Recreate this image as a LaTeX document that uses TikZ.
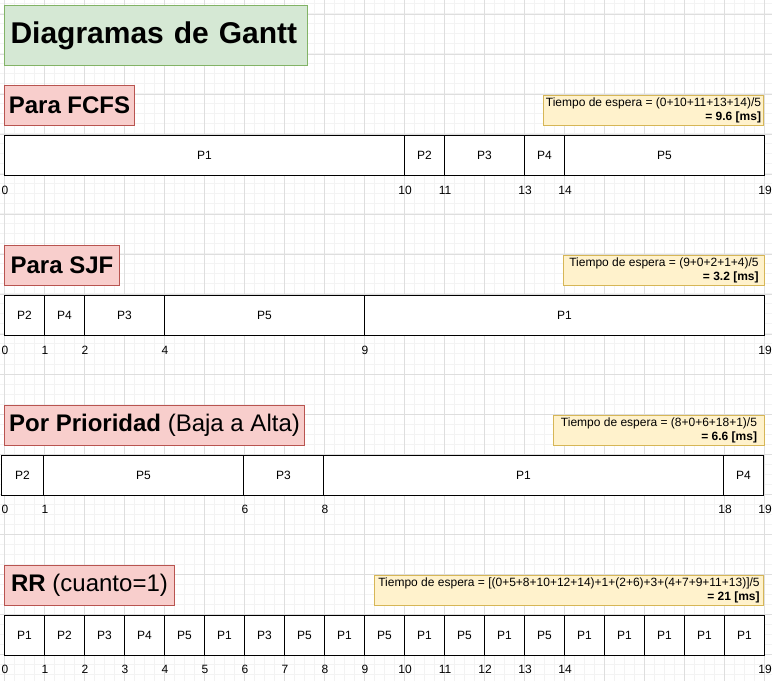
\documentclass[tikz,border=0pt]{standalone}
\usepackage{fontspec}
\setmainfont{Liberation Sans}
\definecolor{gfill}{HTML}{D5E8D4}
\definecolor{gdraw}{HTML}{82B366}
\definecolor{rfill}{HTML}{F8CECC}
\definecolor{rdraw}{HTML}{B85450}
\definecolor{yfill}{HTML}{FFF2CC}
\definecolor{ydraw}{HTML}{D6B656}
\definecolor{gridmin}{HTML}{F3F3F3}
\definecolor{gridmaj}{HTML}{DEDEDE}
\begin{document}
\begin{tikzpicture}[x=0.75pt,y=-0.75pt,
  titlebox/.style={draw=gdraw, fill=gfill, line width=0.75pt, inner ysep=0pt, inner xsep=4.5pt, anchor=north west,
    align=left, font=\fontsize{22.5}{27}\selectfont\bfseries},
  headbox/.style={draw=rdraw, fill=rfill, line width=0.75pt, inner sep=0pt, anchor=north west,
    minimum height=30pt, font=\fontsize{18}{21}\selectfont},
  waitbox/.style={draw=ydraw, fill=yfill, line width=0.75pt, anchor=north east, inner xsep=1.5pt,
    inner ysep=0pt, minimum height=22.5pt, align=right, font=\fontsize{9}{10.9}\selectfont},
  cell/.style={draw=black, fill=white, line width=0.75pt, inner sep=0pt, anchor=north west,
    minimum height=30pt, font=\fontsize{9}{11}\selectfont},
  tick/.style={inner sep=0pt, font=\fontsize{9}{11}\selectfont}
]
\useasboundingbox (0,0) rectangle (772,681);
\fill[white] (0,0) rectangle (772,681);
% grid
\foreach \gx in {4,14,...,774} \draw[gridmin, line width=0.75pt] (\gx,0) -- (\gx,681);
\foreach \gy in {4,14,...,684} \draw[gridmin, line width=0.75pt] (0,\gy) -- (772,\gy);
\foreach \gx in {4,44,...,764} \draw[gridmaj, line width=0.6pt] (\gx,0) -- (\gx,681);
\foreach \gy in {14,54,...,674} \draw[gridmaj, line width=0.6pt] (0,\gy) -- (772,\gy);

% title
\node[titlebox, text width=218.25pt, minimum height=45pt] (title) at (4,5) {Diagramas de Gantt};

% headings
\node[headbox, minimum width=97.5pt] (hfcfs) at (4,85) {\bfseries Para FCFS};
\node[headbox, minimum width=86.25pt] (hsjf) at (4,245) {\bfseries Para SJF};
\node[headbox, minimum width=225pt] (hprio) at (4,405) {\textbf{Por Prioridad} (Baja a Alta)};
\node[headbox, minimum width=127.5pt] (hrr) at (4,565) {\textbf{RR} (cuanto=1)};

% waiting-time boxes
\node[waitbox, minimum width=165pt] (wfcfs) at (764,95) {Tiempo de espera = (0+10+11+13+14)/5\\\textbf{= 9.6 [ms]}};
\node[waitbox, minimum width=150.75pt] (wsjf) at (765,255) {Tiempo de espera = (9+0+2+1+4)/5\\\textbf{= 3.2 [ms]}};
\node[waitbox, minimum width=158.25pt] (wprio) at (765,415) {Tiempo de espera = (8+0+6+18+1)/5\\\textbf{= 6.6 [ms]}};
\node[waitbox, minimum width=291.75pt] (wrr) at (764,575) {Tiempo de espera = [(0+5+8+10+12+14)+1+(2+6)+3+(4+7+9+11+13)]/5\\\textbf{= 21 [ms]}};

% FCFS bar
\foreach \s/\e/\l [count=\i] in {0/10/P1,10/11/P2,11/13/P3,13/14/P4,14/19/P5}
  \node[cell, minimum width={(\e-\s)*30pt}] (fcfs\i) at ({4+40*\s},135) {\l};
\foreach \t [count=\i] in {0,10,11,13,14,19}
  \node[tick] (fcfst\i) at ({5+40*\t},190) {\t};

% SJF bar
\foreach \s/\e/\l [count=\i] in {0/1/P2,1/2/P4,2/4/P3,4/9/P5,9/19/P1}
  \node[cell, minimum width={(\e-\s)*30pt}] (sjf\i) at ({4+40*\s},295) {\l};
\foreach \t [count=\i] in {0,1,2,4,9,19}
  \node[tick] (sjft\i) at ({5+40*\t},350) {\t};

% Priority bar
\node[cell, minimum width=31.5pt] (prio1) at (1,455) {P2};
\foreach \s/\e/\l [count=\i from 2] in {1/6/P5,6/8/P3,8/18/P1,18/19/P4}
  \node[cell, minimum width={(\e-\s)*30pt}] (prio\i) at ({3+40*\s},455) {\l};
\foreach \t [count=\i] in {0,1,6,8,18,19}
  \node[tick] (priot\i) at ({5+40*\t},509) {\t};

% RR bar
\foreach \l [count=\i from 0] in {P1,P2,P3,P4,P5,P1,P3,P5,P1,P5,P1,P5,P1,P5,P1,P1,P1,P1,P1}
  \node[cell, minimum width=30pt] (rr\i) at ({4+40*\i},615) {\l};
\foreach \t [count=\i] in {0,1,2,3,4,5,6,7,8,9,10,11,12,13,14,19}
  \node[tick] (rrt\i) at ({5+40*\t},669) {\t};
\end{tikzpicture}
\end{document}
